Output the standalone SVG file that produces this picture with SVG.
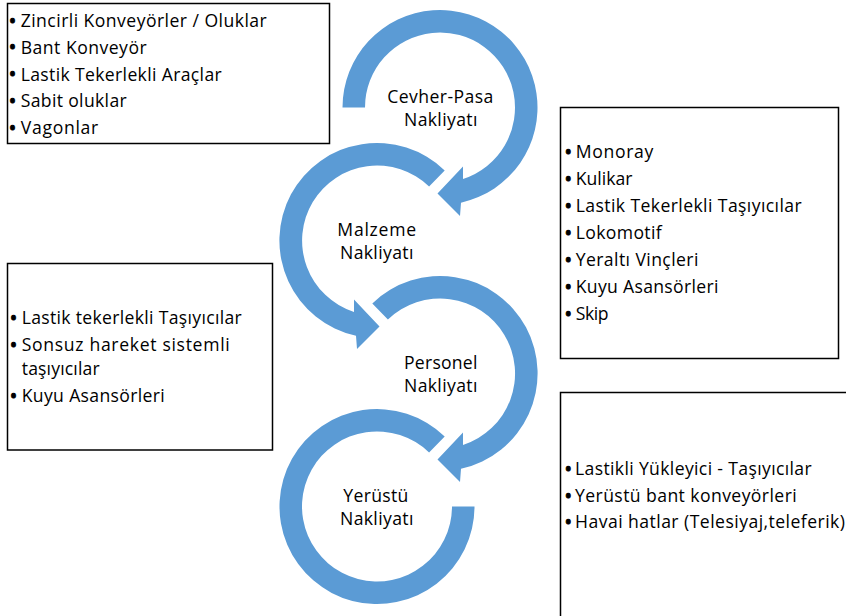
<svg xmlns="http://www.w3.org/2000/svg" width="846" height="616" viewBox="0 0 846 616">
<style>
.arrow{fill:#5B9BD5;}
.box{fill:#fff;stroke:#000;stroke-width:1.5;}
.t{font-family:"Open Sans","Noto Sans",sans-serif;font-size:17.6px;fill:#000;}
.c{font-family:"Open Sans","Noto Sans",sans-serif;font-size:17.6px;fill:#000;text-anchor:middle;}
.b{font-family:"Open Sans","Noto Sans",sans-serif;font-size:20px;fill:#000;stroke:#000;stroke-width:0.9;text-anchor:middle;}
</style>
<rect width="846" height="616" fill="#fff"/>
<g id="connectors"></g>
<g id="arrow-cevher">
<path class="arrow" d="M342.5,107.5 A97.5,97.5 0 1 1 461,202.7 L460,216 L437.5,193.5 L463,166.5 L463,178.9 A75,75 0 1 0 365,107.5 Z"/>
<text class="c" x="440.3" y="102.5" textLength="106">Cevher-Pasa</text>
<text class="c" x="440.7" y="125.5" textLength="73.3">Nakliyatı</text>
</g>
<g id="arrow-malzeme">
<path class="arrow" d="M444.7,170.4 A97.5,97.5 0 1 0 356,335.7 L357,349 L379.5,326.5 L354,299.5 L354,311.9 A75,75 0 1 1 429.1,186.5 Z"/>
<text class="c" x="376.7" y="235.5" textLength="78.7">Malzeme</text>
<text class="c" x="376.7" y="258.5" textLength="73.3">Nakliyatı</text>
</g>
<g id="arrow-personel">
<path class="arrow" d="M372.3,303.4 A97.5,97.5 0 1 1 461,468.7 L460,482 L437.5,459.5 L463,432.5 L463,444.9 A75,75 0 1 0 387.9,319.6 Z"/>
<text class="c" x="440.7" y="368.5" textLength="73.3">Personel</text>
<text class="c" x="440.7" y="391.5" textLength="73.3">Nakliyatı</text>
</g>
<g id="arrow-yerustu">
<path class="arrow" d="M444.7,436.4 A97.5,97.5 0 1 0 474.5,506.5 L452,506.5 A75,75 0 1 1 429.1,452.5 Z"/>
<text class="c" x="375.8" y="501.5" textLength="65">Yerüstü</text>
<text class="c" x="376.7" y="524.5" textLength="73.3">Nakliyatı</text>
</g>
<g id="box-cevher">
<rect class="box" x="7.5" y="3.5" width="322" height="140"/>
<text class="b" x="12.5" y="27.5">•</text><text class="t" x="20.7" y="26.7" textLength="246">Zincirli Konveyörler / Oluklar</text>
<text class="b" x="12.5" y="54.4">•</text><text class="t" x="20.7" y="53.6" textLength="126">Bant Konveyör</text>
<text class="b" x="12.5" y="81.3">•</text><text class="t" x="20.7" y="80.5" textLength="201">Lastik Tekerlekli Araçlar</text>
<text class="b" x="12.5" y="108.2">•</text><text class="t" x="20.7" y="107.4" textLength="106">Sabit oluklar</text>
<text class="b" x="12.5" y="135.1">•</text><text class="t" x="20.7" y="134.3" textLength="77.6">Vagonlar</text>
</g>
<g id="box-malzeme">
<rect class="box" x="560.5" y="107.5" width="278" height="251"/>
<text class="b" x="568.3" y="159.1">•</text><text class="t" x="575.7" y="158.3" textLength="77.7">Monoray</text>
<text class="b" x="568.3" y="186">•</text><text class="t" x="575.7" y="185.2" textLength="56.7">Kulikar</text>
<text class="b" x="568.3" y="212.9">•</text><text class="t" x="575.7" y="212.1" textLength="226">Lastik Tekerlekli Taşıyıcılar</text>
<text class="b" x="568.3" y="239.8">•</text><text class="t" x="575.7" y="239" textLength="86">Lokomotif</text>
<text class="b" x="568.3" y="266.7">•</text><text class="t" x="575.7" y="265.9" textLength="122.7">Yeraltı Vinçleri</text>
<text class="b" x="568.3" y="293.6">•</text><text class="t" x="575.7" y="292.8" textLength="142.7">Kuyu Asansörleri</text>
<text class="b" x="568.3" y="320.5">•</text><text class="t" x="575.7" y="319.7" textLength="32.7">Skip</text>
</g>
<g id="box-personel">
<rect class="box" x="7.5" y="263.5" width="265" height="186.5"/>
<text class="b" x="13.5" y="325.1">•</text><text class="t" x="21.7" y="324.3" textLength="220">Lastik tekerlekli Taşıyıcılar</text>
<text class="b" x="13.5" y="351.5">•</text><text class="t" x="21.7" y="350.7" textLength="208">Sonsuz hareket sistemli</text>
<text class="t" x="21.7" y="375" textLength="78">taşıyıcılar</text>
<text class="b" x="13.5" y="402.5">•</text><text class="t" x="21.7" y="401.7" textLength="143">Kuyu Asansörleri</text>
</g>
<g id="box-yerustu">
<rect class="box" x="560.5" y="392.5" width="300" height="240"/>
<text class="b" x="568.3" y="475.8">•</text><text class="t" x="575" y="475" textLength="236.7">Lastikli Yükleyici - Taşıyıcılar</text>
<text class="b" x="568.3" y="502.5">•</text><text class="t" x="575" y="501.7" textLength="221.7">Yerüstü bant konveyörleri</text>
<text class="b" x="568.3" y="529.1">•</text><text class="t" x="575" y="528.3" textLength="270">Havai hatlar (Telesiyaj,teleferik)</text>
</g>
</svg>
